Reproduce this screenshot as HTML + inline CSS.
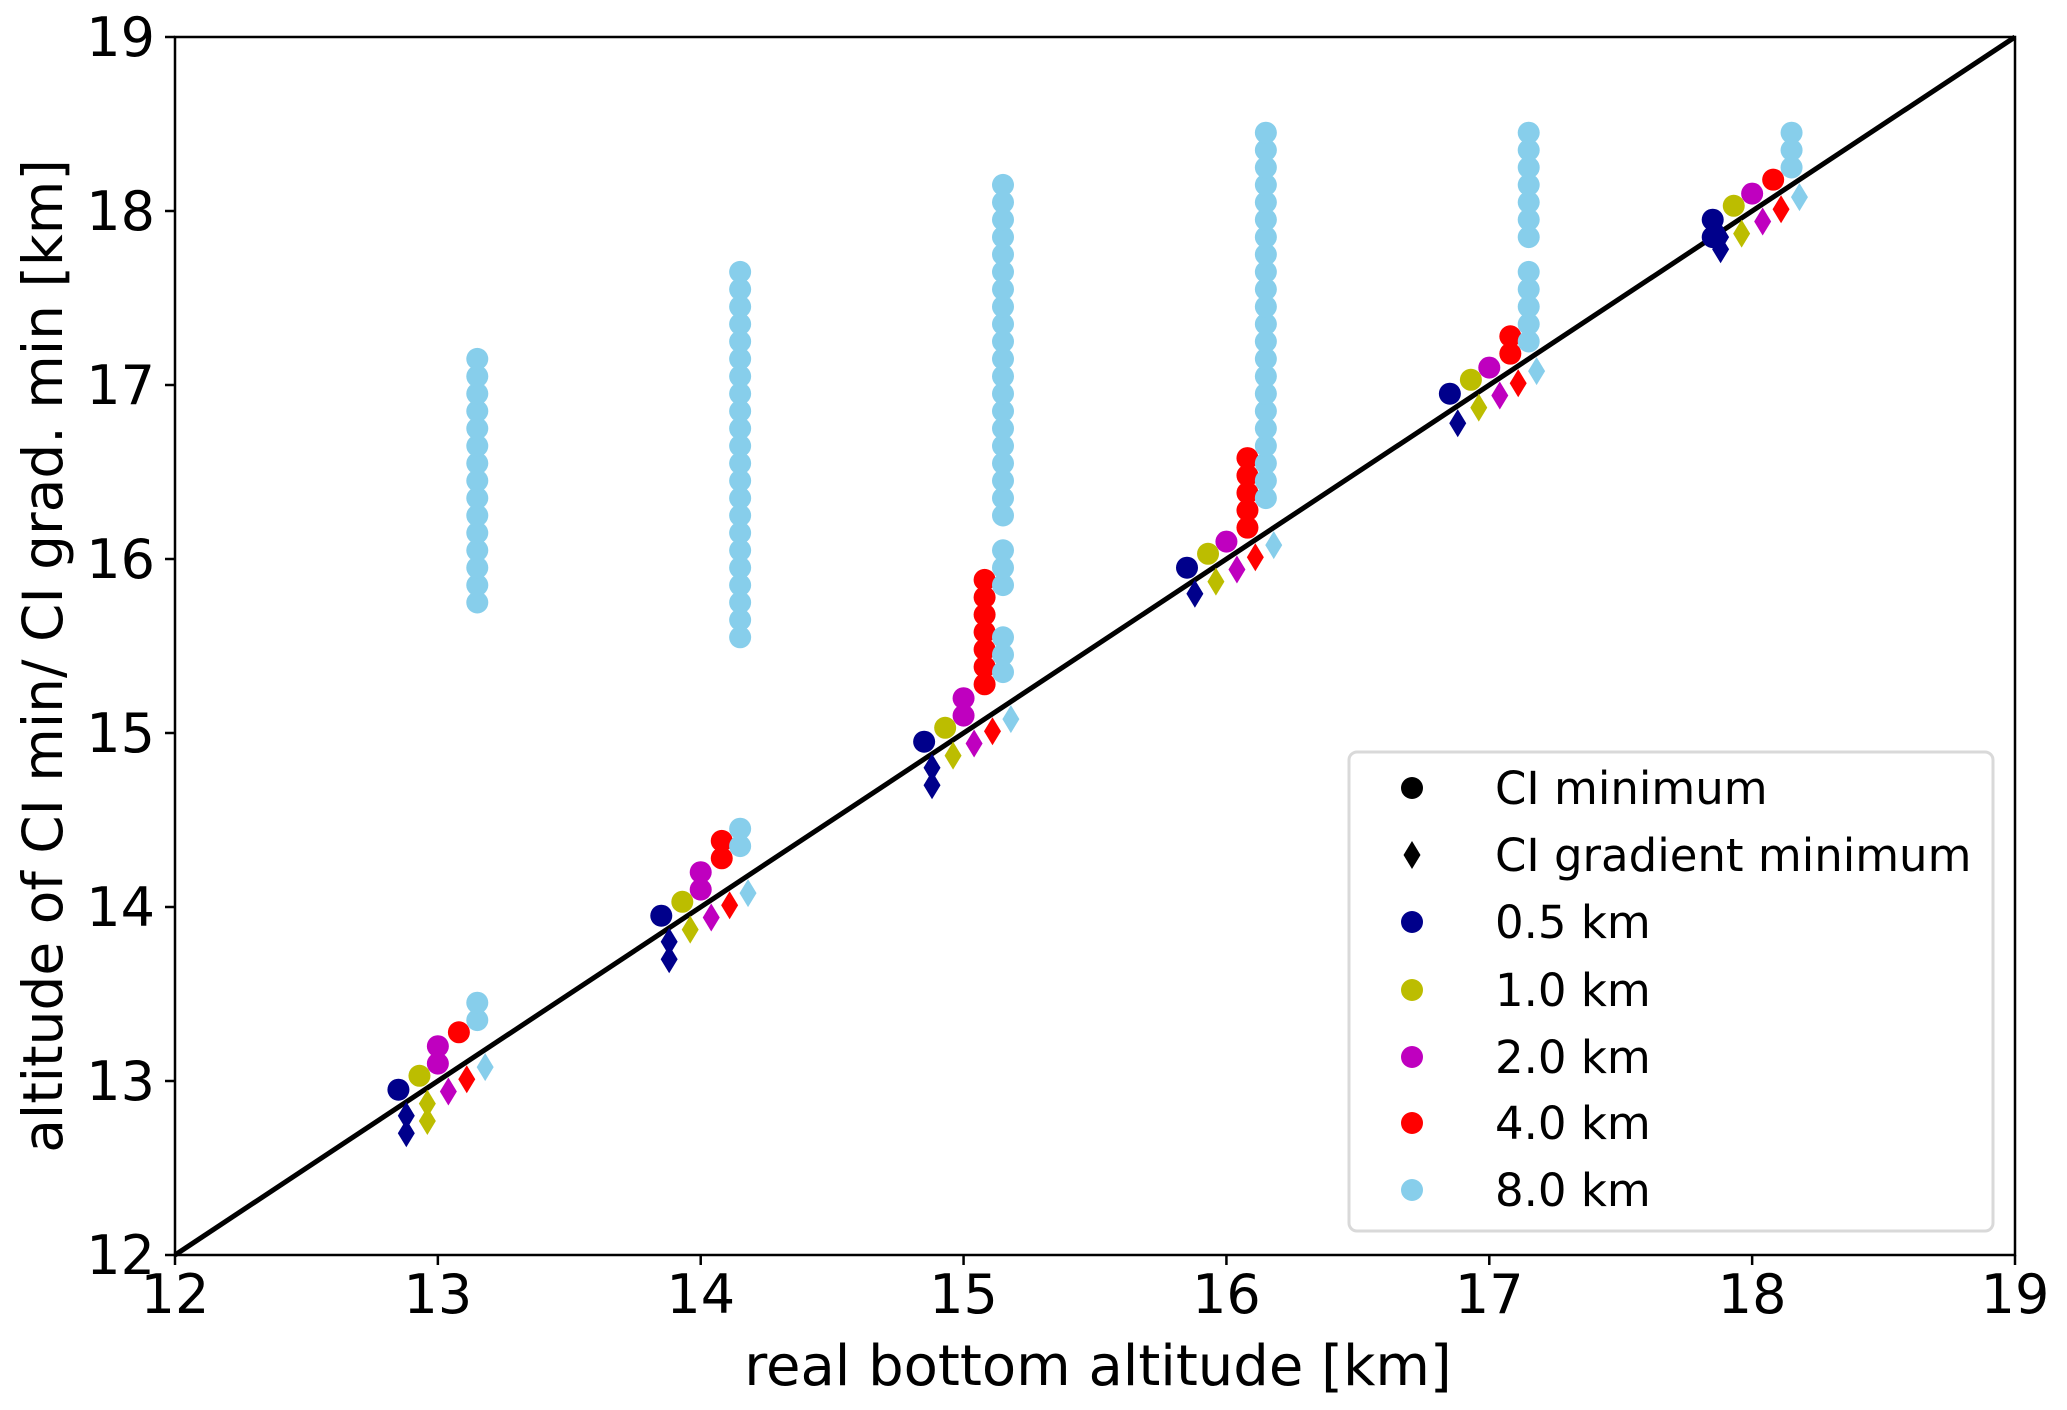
<!DOCTYPE html>
<html><head><meta charset="utf-8"><style>
html,body{margin:0;padding:0;background:#fff;}
svg{display:block;font-family:"DejaVu Sans","Liberation Sans",sans-serif;}
</style></head><body>
<svg id="chart" width="2067" height="1410" viewBox="0 0 2067 1410" xmlns="http://www.w3.org/2000/svg">
<g id="plot"></g>
<g id="axes"></g>
<g id="legend"></g>
</svg>
<script>
const xTicks = [12,13,14,15,16,17,18,19];
const yTicks = [12,13,14,15,16,17,18,19];
const seriesNames = ["0.5 km","1.0 km","2.0 km","4.0 km","8.0 km"];
const seriesColors = ["#00008b","#bcbd00","#bf00bf","#ff0000","#87ceeb"];
const groups = [13,14,15,16,17,18];
const circleOffsets = [-0.15,-0.07,0.0,0.08,0.15];
const diamondOffsets = [-0.12,-0.04,0.04,0.11,0.18];
// CI minimum values per series per group
const ciMin05 = [[12.95],[13.95],[14.95],[15.95],[16.95],[17.95,17.85]];
const ciMin10 = [[13.03],[14.03],[15.03],[16.03],[17.03],[18.03]];
const ciMin20 = [[13.1,13.2],[14.1,14.2],[15.1,15.2],[16.1],[17.1],[18.1]];
const ciMin40 = [[13.28],[14.28,14.38],[15.28,15.38,15.48,15.58,15.68,15.78,15.88],[16.18,16.28,16.38,16.48,16.58],[17.18,17.28],[18.18]];
const ciMin80 = [
 [13.35,13.45,15.75,15.85,15.95,16.05,16.15,16.25,16.35,16.45,16.55,16.65,16.75,16.85,16.95,17.05,17.15],
 [14.35,14.45,15.55,15.65,15.75,15.85,15.95,16.05,16.15,16.25,16.35,16.45,16.55,16.65,16.75,16.85,16.95,17.05,17.15,17.25,17.35,17.45,17.55,17.65],
 [15.35,15.45,15.55,15.85,15.95,16.05,16.25,16.35,16.45,16.55,16.65,16.75,16.85,16.95,17.05,17.15,17.25,17.35,17.45,17.55,17.65,17.75,17.85,17.95,18.05,18.15],
 [16.35,16.45,16.55,16.65,16.75,16.85,16.95,17.05,17.15,17.25,17.35,17.45,17.55,17.65,17.75,17.85,17.95,18.05,18.15,18.25,18.35,18.45],
 [17.25,17.35,17.45,17.55,17.65,17.85,17.95,18.05,18.15,18.25,18.35,18.45],
 [18.25,18.35,18.45]];
// CI gradient minimum values
const gradMin05 = [[12.8,12.7],[13.8,13.7],[14.8,14.7],[15.8],[16.78],[17.85,17.78]];
const gradMin10 = [[12.87,12.77],[13.87],[14.87],[15.87],[16.87],[17.87]];
const gradMin20 = [[12.94],[13.94],[14.94],[15.94],[16.94],[17.94]];
const gradMin40 = [[13.01],[14.01],[15.01],[16.01],[17.01],[18.01]];
const gradMin80 = [[13.08],[14.08],[15.08],[16.08],[17.08],[18.08]];
const ciMinAll = [ciMin05,ciMin10,ciMin20,ciMin40,ciMin80];
const gradMinAll = [gradMin05,gradMin10,gradMin20,gradMin40,gradMin80];

const NS="http://www.w3.org/2000/svg";
const L=175,R=2015,T=37,B=1255;
const xs=v=>L+(v-12)/(19-12)*(R-L);
const ys=v=>B-(v-12)/(19-12)*(B-T);
function mk(tag,attrs,parent){const e=document.createElementNS(NS,tag);for(const k in attrs)e.setAttribute(k,attrs[k]);parent.appendChild(e);return e;}
const plot=document.getElementById('plot'),axes=document.getElementById('axes'),legend=document.getElementById('legend');

function diamond(cx,cy,w,h){return `M${cx},${cy-h/2} L${cx+w/2},${cy} L${cx},${cy+h/2} L${cx-w/2},${cy} Z`;}

const diag=mk('line',{x1:xs(12),y1:ys(12),x2:xs(19),y2:ys(19),stroke:'#000','stroke-width':5},plot);



for(let s=0;s<5;s++){
  for(let g=0;g<groups.length;g++){
    for(const v of ciMinAll[s][g]){
      const c=mk('circle',{cx:xs(groups[g]+circleOffsets[s]),cy:ys(v),r:11,fill:seriesColors[s]},plot);
      
      
    }
    for(const v of gradMinAll[s][g]){
      const d=mk('path',{d:diamond(xs(groups[g]+diamondOffsets[s]),ys(v),17,28),fill:seriesColors[s]},plot);
      
      
    }
  }
}

const fr=mk('rect',{x:L,y:T,width:R-L,height:B-T,fill:'none',stroke:'#000','stroke-width':2.5},axes);


for(const t of xTicks){
  const x=xs(t);
  mk('line',{x1:x,y1:B,x2:x,y2:B+10,stroke:'#000','stroke-width':2.5},axes);
  const tx=mk('text',{x:x,y:B+58,'font-size':54,'text-anchor':'middle'},axes);
  tx.textContent=t;
  
  
}
for(const t of yTicks){
  const y=ys(t);
  mk('line',{x1:L-10,y1:y,x2:L,y2:y,stroke:'#000','stroke-width':2.5},axes);
  const ty=mk('text',{x:L-20,y:y+19,'font-size':54,'text-anchor':'end'},axes);
  ty.textContent=t;
  
  
}
const xl=mk('text',{x:1098,y:1385,'font-size':56,'text-anchor':'middle'},axes);
xl.textContent='real bottom altitude [km]';


const yl=mk('text',{x:0,y:0,'font-size':55,'text-anchor':'middle',transform:'translate(62,656) rotate(-90)'},axes);
yl.textContent='altitude of CI min/ CI grad. min [km]';



const lb=mk('rect',{x:1349,y:752,width:644,height:479,rx:8,fill:'#fff',stroke:'#d9d9d9','stroke-width':3},legend);


const legendLabels=["CI minimum","CI gradient minimum"].concat(seriesNames);
const rowY=[788,855,922,990,1057,1123,1190];
for(let i=0;i<legendLabels.length;i++){
  const y=rowY[i];
  let m;
  if(i===1) m=mk('path',{d:diamond(1412,y,17,28),fill:'#000'},legend);
  else m=mk('circle',{cx:1412,cy:y,r:11,fill:i===0?'#000':seriesColors[i-2]},legend);
  
  
  const t=mk('text',{x:1495,y:y+16,'font-size':45},legend);
  t.textContent=legendLabels[i];
  
  
}
</script>
</body></html>
